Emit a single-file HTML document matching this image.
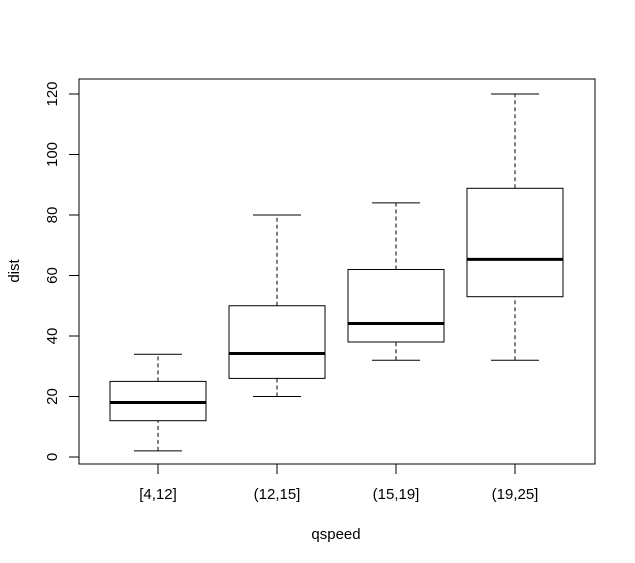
<!DOCTYPE html>
<html><head><style>body{margin:0;background:#fff}svg{display:block}text{font-family:"Liberation Sans",Arial,sans-serif;font-size:15px;fill:#000}</style></head><body>
<svg width="635" height="563" xmlns="http://www.w3.org/2000/svg">
<rect x="79" y="79" width="516" height="385" fill="none" stroke="#000"/>
<g stroke="#000" fill="none">
<line x1="79" y1="94" x2="79" y2="457"/>
<line x1="69" y1="457" x2="79" y2="457"/>
<line x1="69" y1="396.5" x2="79" y2="396.5"/>
<line x1="69" y1="336" x2="79" y2="336"/>
<line x1="69" y1="275.5" x2="79" y2="275.5"/>
<line x1="69" y1="215" x2="79" y2="215"/>
<line x1="69" y1="154.5" x2="79" y2="154.5"/>
<line x1="69" y1="94" x2="79" y2="94"/>
<line x1="158" y1="464" x2="515" y2="464"/>
<line x1="158" y1="464" x2="158" y2="474"/>
<line x1="277" y1="464" x2="277" y2="474"/>
<line x1="396" y1="464" x2="396" y2="474"/>
<line x1="515" y1="464" x2="515" y2="474"/>
<line x1="158" y1="450.9" x2="158" y2="420.7" stroke-dasharray="4,3"/>
<line x1="158" y1="381.4" x2="158" y2="354.2" stroke-dasharray="4,3"/>
<line x1="134" y1="450.9" x2="182" y2="450.9"/>
<line x1="134" y1="354.2" x2="182" y2="354.2"/>
<rect x="110" y="381.4" width="96" height="39.3"/>
<line x1="110" y1="402.5" x2="206" y2="402.5" stroke-width="3"/>
<line x1="277" y1="396.5" x2="277" y2="378.4" stroke-dasharray="4,3"/>
<line x1="277" y1="305.75" x2="277" y2="215" stroke-dasharray="4,3"/>
<line x1="253" y1="396.5" x2="301" y2="396.5"/>
<line x1="253" y1="215" x2="301" y2="215"/>
<rect x="229" y="305.75" width="96" height="72.65"/>
<line x1="229" y1="353.5" x2="325" y2="353.5" stroke-width="3"/>
<line x1="396" y1="360.2" x2="396" y2="342" stroke-dasharray="4,3"/>
<line x1="396" y1="269.5" x2="396" y2="202.9" stroke-dasharray="4,3"/>
<line x1="372" y1="360.2" x2="420" y2="360.2"/>
<line x1="372" y1="202.9" x2="420" y2="202.9"/>
<rect x="348" y="269.5" width="96" height="72.5"/>
<line x1="348" y1="323.5" x2="444" y2="323.5" stroke-width="3"/>
<line x1="515" y1="360.2" x2="515" y2="296.7" stroke-dasharray="4,3"/>
<line x1="515" y1="188.3" x2="515" y2="94" stroke-dasharray="4,3"/>
<line x1="491" y1="360.2" x2="539" y2="360.2"/>
<line x1="491" y1="94" x2="539" y2="94"/>
<rect x="467" y="188.3" width="96" height="108.4"/>
<line x1="467" y1="259.4" x2="563" y2="259.4" stroke-width="3"/>
</g>
<g text-anchor="middle">
<text transform="translate(57,457) rotate(-90)">0</text>
<text transform="translate(57,396.5) rotate(-90)">20</text>
<text transform="translate(57,336) rotate(-90)">40</text>
<text transform="translate(57,275.5) rotate(-90)">60</text>
<text transform="translate(57,215) rotate(-90)">80</text>
<text transform="translate(57,154.5) rotate(-90)">100</text>
<text transform="translate(57,94) rotate(-90)">120</text>
<text x="158" y="499">[4,12]</text>
<text x="277" y="499">(12,15]</text>
<text x="396" y="499">(15,19]</text>
<text x="515" y="499">(19,25]</text>
<text x="336" y="539">qspeed</text>
<text transform="translate(19,271) rotate(-90)">dist</text>
</g>
</svg>
</body></html>
